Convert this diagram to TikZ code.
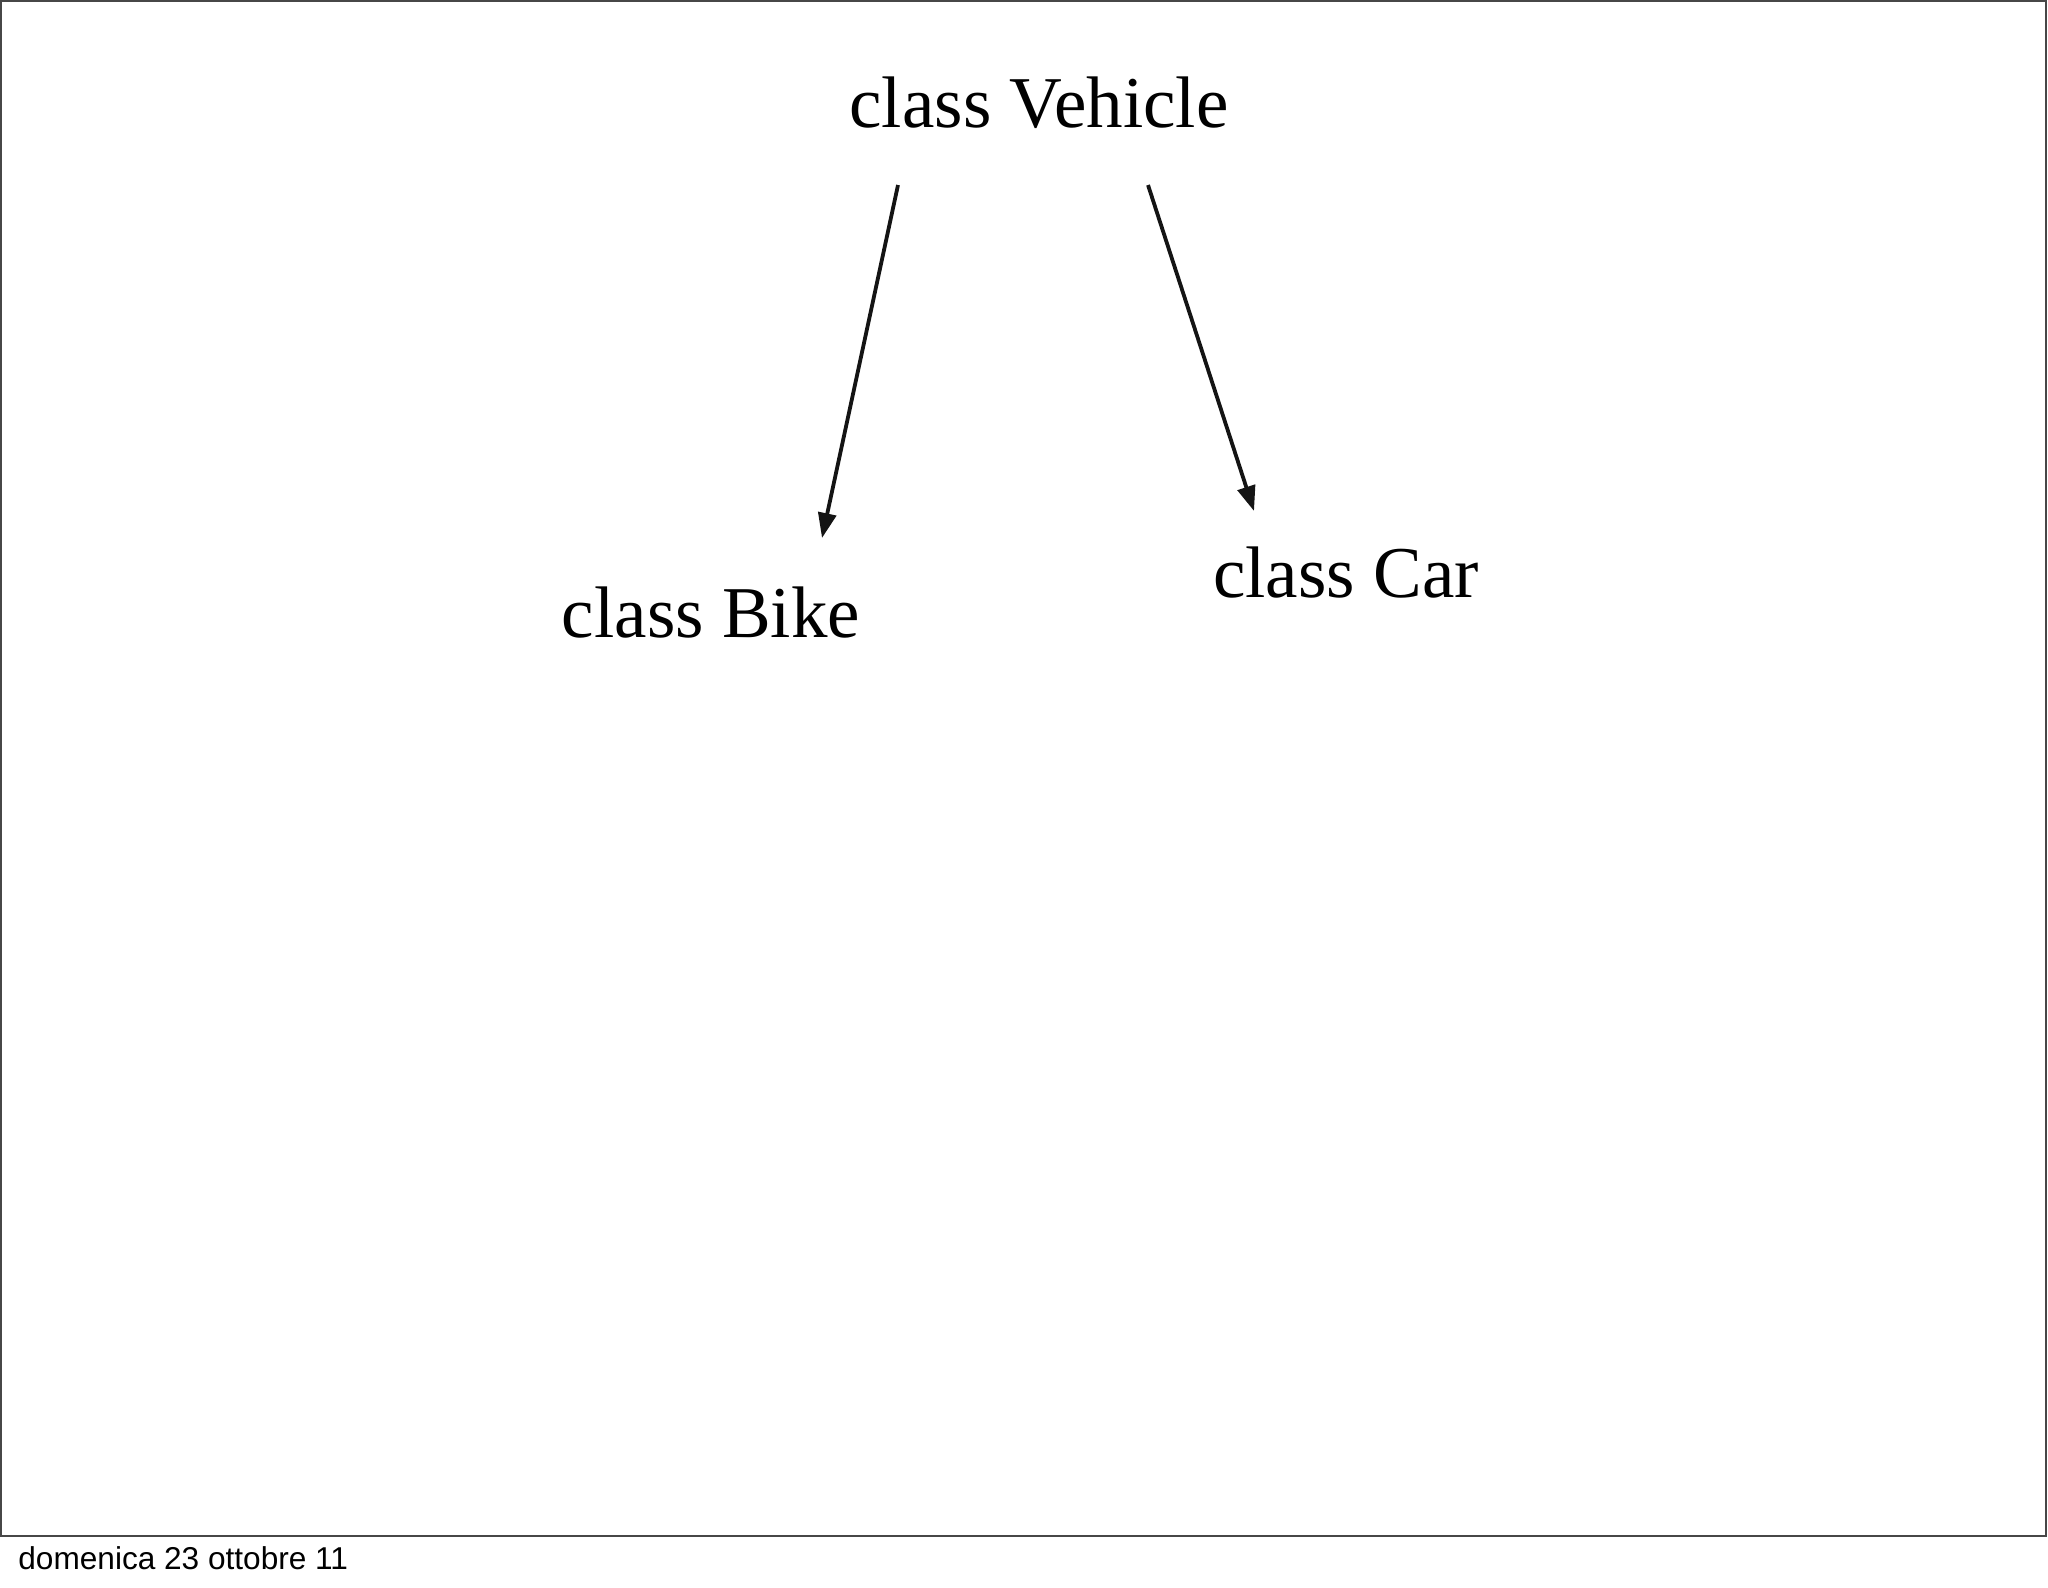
\documentclass[tikz,border=0pt]{standalone}
\usepackage{fontspec}
\setmainfont{Liberation Serif}
\newfontfamily\footfont{Liberation Sans}
\usetikzlibrary{arrows.meta}
\begin{document}
\begin{tikzpicture}[x=0.5pt,y=-0.5pt,
  cls/.style={anchor=base,inner sep=0pt,font=\fontsize{36.5pt}{40pt}\selectfont},
  inh/.style={line width=1.9pt,draw=black!92,-{Triangle[length=12.5pt,width=9pt]}}]
\useasboundingbox (0,0) rectangle (2048,1587);
\draw[line width=1.3pt,draw=black!72] (1,1) rectangle (2046,1536);
\node[cls] (veh) at (1039,127) {class Vehicle};
\node[cls] (bike) at (711,637) {class Bike};
\node[cls] (car) at (1346,597) {class Car};
\coordinate (vl) at (898,185);
\coordinate (vr) at (1148,185);
\coordinate (bt) at (822,538);
\coordinate (ct) at (1254,511);
\draw[inh] (vl) -- (bt);
\draw[inh] (vr) -- (ct);
\node[anchor=base west,inner sep=0pt,font=\footfont\fontsize{15.8pt}{18pt}\selectfont] (date) at (18,1569) {domenica 23 ottobre 11};
\end{tikzpicture}
\end{document}
